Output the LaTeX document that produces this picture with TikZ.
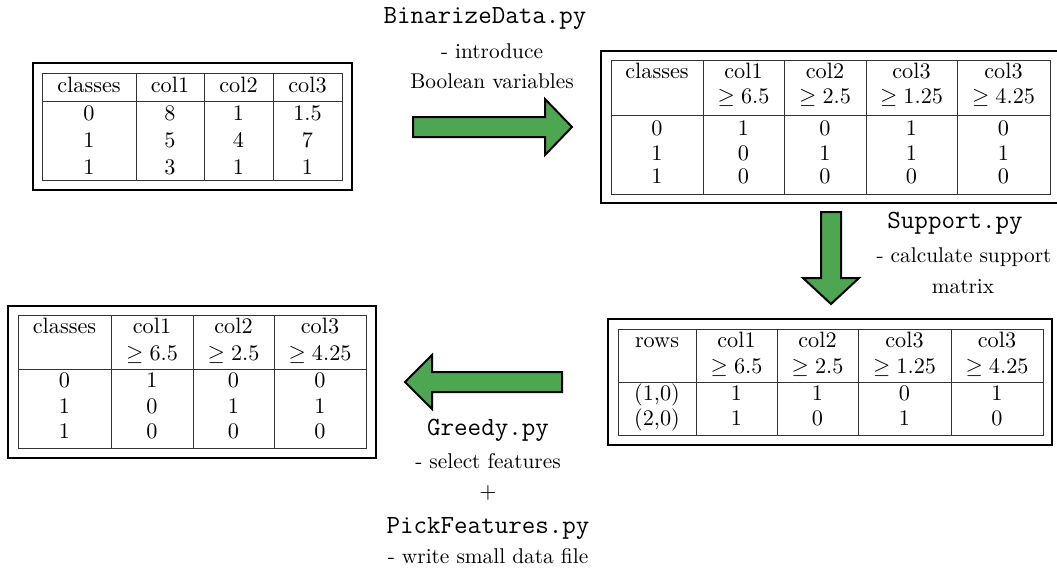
\documentclass[tikz,border=0pt]{standalone}
\usetikzlibrary{fit}
\definecolor{arrowgreen}{RGB}{77,166,80}
\begin{document}
\begin{tikzpicture}[x=0.45pt,y=-0.45pt,
  outerbox/.style={draw=black,line width=1.2pt,inner sep=0pt},
  rule/.style={draw=black!80,line width=0.45pt},
  cell/.style={anchor=base,inner sep=0pt,font=\fontsize{10}{12}\selectfont},
  lbl/.style={anchor=base,inner sep=0pt,font=\fontsize{9.6}{12}\selectfont},
  code/.style={anchor=base,inner sep=0pt,font=\fontsize{11.8}{14}\selectfont\ttfamily},
  blockarrow/.style={draw=black,line width=0.9pt,fill=arrowgreen,line join=miter}]
\useasboundingbox (0,0) rectangle (1057,572);

% ---------- raw data table ----------
\node[outerbox,fit={(33,63) (352,190)}] (tabA) {};
\draw[rule] (42,73) rectangle (342,180);
\draw[rule] (42,101) -- (342,101);
\foreach \x in {136,204,273} \draw[rule] (\x,73) -- (\x,180);
\foreach \x/\t [count=\i] in {89/classes,170/col1,238.5/col2,307.5/col3}
  \node[cell] (A-h\i) at (\x,92) {\t};
\foreach \y/\a/\b/\c/\d [count=\r] in {120/0/8/1/1.5,147/1/5/4/7,174/1/3/1/1}{
  \node[cell] (A-\r-1) at (89,\y) {$\a$};
  \node[cell] (A-\r-2) at (170,\y) {$\b$};
  \node[cell] (A-\r-3) at (238.5,\y) {$\c$};
  \node[cell] (A-\r-4) at (307.5,\y) {$\d$};
}

% ---------- binarized table ----------
\node[outerbox,fit={(601,51) (1070,203)}] (tabB) {};
\draw[rule] (611,60) -- (1050,60) -- (1050,194) -- (611,194) -- cycle;
\draw[rule] (611,115) -- (1050,115);
\foreach \x in {703,784,866,957} \draw[rule] (\x,60) -- (\x,194);
\foreach \x/\t/\u [count=\i] in {657/classes/{},743.5/col1/{$\geq 6.5$},825/col2/{$\geq 2.5$},911.5/col3/{$\geq 1.25$},1003.5/col3/{$\geq 4.25$}}{
  \node[cell] (B-h\i) at (\x,78) {\t};
  \node[cell] (B-g\i) at (\x,103) {\u};
}
\foreach \y/\a/\b/\c/\d/\e [count=\r] in {135/0/1/0/1/0,160/1/0/1/1/1,183/1/0/0/0/0}{
  \node[cell] (B-\r-1) at (657,\y) {$\a$};
  \node[cell] (B-\r-2) at (743.5,\y) {$\b$};
  \node[cell] (B-\r-3) at (825,\y) {$\c$};
  \node[cell] (B-\r-4) at (911.5,\y) {$\d$};
  \node[cell] (B-\r-5) at (1003.5,\y) {$\e$};
}

% ---------- support matrix ----------
\node[outerbox,fit={(608,319) (1052,445)}] (tabC) {};
\draw[rule] (618,329) rectangle (1043,435);
\draw[rule] (618,382) -- (1043,382);
\foreach \x in {696,777,858,951} \draw[rule] (\x,329) -- (\x,435);
\foreach \x/\t/\u [count=\i] in {657/rows/{},736.5/col1/{$\geq 6.5$},817.5/col2/{$\geq 2.5$},904.5/col3/{$\geq 1.25$},997/col3/{$\geq 4.25$}}{
  \node[cell] (C-h\i) at (\x,347) {\t};
  \node[cell] (C-g\i) at (\x,373) {\u};
}
\foreach \y/\a/\b/\c/\d/\e [count=\r] in {400/{(1,0)}/1/1/0/1,425/{(2,0)}/1/0/1/0}{
  \node[cell] (C-\r-1) at (657,\y) {\a};
  \node[cell] (C-\r-2) at (736.5,\y) {$\b$};
  \node[cell] (C-\r-3) at (817.5,\y) {$\c$};
  \node[cell] (C-\r-4) at (904.5,\y) {$\d$};
  \node[cell] (C-\r-5) at (997,\y) {$\e$};
}

% ---------- selected features ----------
\node[outerbox,fit={(8,306) (376,458)}] (tabD) {};
\draw[rule] (18,315) rectangle (366,448);
\draw[rule] (18,369) -- (366,369);
\foreach \x in {111,193,274} \draw[rule] (\x,315) -- (\x,448);
\foreach \x/\t/\u [count=\i] in {64.5/classes/{},152/col1/{$\geq 6.5$},233.5/col2/{$\geq 2.5$},320/col3/{$\geq 4.25$}}{
  \node[cell] (D-h\i) at (\x,333) {\t};
  \node[cell] (D-g\i) at (\x,360) {\u};
}
\foreach \y/\a/\b/\c/\d [count=\r] in {387/0/1/0/0,413/1/0/1/1,438/1/0/0/0}{
  \node[cell] (D-\r-1) at (64.5,\y) {$\a$};
  \node[cell] (D-\r-2) at (152,\y) {$\b$};
  \node[cell] (D-\r-3) at (233.5,\y) {$\c$};
  \node[cell] (D-\r-4) at (320,\y) {$\d$};
}

% ---------- block arrows ----------
\draw[blockarrow] (413,117) -- (545,117) -- (545,99) -- (572,127) -- (545,155)
  -- (545,137) -- (413,137) -- cycle;
\draw[blockarrow] (821,212) -- (821,278) -- (803,278) -- (831,304) -- (859,278)
  -- (841,278) -- (841,212) -- cycle;
\draw[blockarrow] (562,372) -- (432,372) -- (432,355) -- (405,382) -- (432,409)
  -- (432,392) -- (562,392) -- cycle;

% ---------- step labels ----------
\node[code] (binA) at (485,23) {BinarizeData.py};
\node[lbl]  (binB) at (492,58) {- introduce};
\node[lbl]  (binC) at (492,88) {Boolean variables};

\node[code] (supA) at (955,228) {Support.py};
\node[lbl]  (supB) at (964,262) {- calculate support};
\node[lbl]  (supC) at (963,293) {matrix};

\node[code] (grA) at (488,435) {Greedy.py};
\node[lbl]  (grB) at (488,468) {- select features};
\node[lbl]  (grC) at (488,498) {$+$};
\node[code] (grD) at (488,533) {PickFeatures.py};
\node[lbl]  (grE) at (488,563) {- write small data file};
\end{tikzpicture}
\end{document}
